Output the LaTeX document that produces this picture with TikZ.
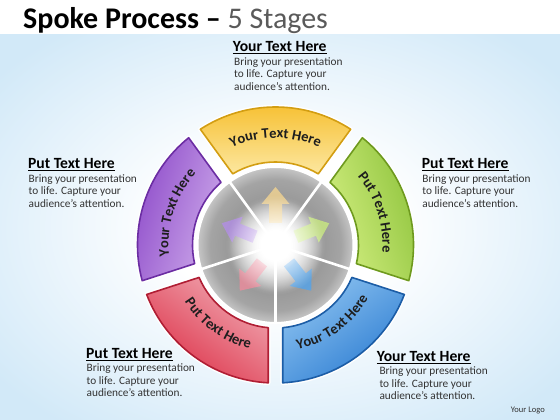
\documentclass[tikz,border=0pt]{standalone}
\usepackage{fontspec}
\setmainfont{Carlito}
\usepackage{tikz}
\usetikzlibrary{positioning,decorations.text,fadings}

\definecolor{bgblue}{HTML}{D2E9F8}
\definecolor{titlegray}{HTML}{5A5A5A}
\definecolor{bodygray}{HTML}{333333}
\definecolor{hubmid}{HTML}{999999}
\definecolor{hubmidb}{HTML}{A4A4A4}
\definecolor{hubedge}{HTML}{C6C6C6}
\definecolor{ylwL}{HTML}{FCE7A0}\definecolor{ylwD}{HTML}{F6BE2C}\definecolor{ylwO}{HTML}{D39E12}\definecolor{ylwA}{HTML}{F9D890}
\definecolor{grnL}{HTML}{D2EE80}\definecolor{grnD}{HTML}{8CC23A}\definecolor{grnO}{HTML}{6E9A1E}\definecolor{grnA}{HTML}{CDF07E}
\definecolor{bluL}{HTML}{8CC2F0}\definecolor{bluD}{HTML}{2D7DD2}\definecolor{bluO}{HTML}{1C5DA6}\definecolor{bluA}{HTML}{4EA4F0}
\definecolor{redL}{HTML}{F0A6B0}\definecolor{redD}{HTML}{DD3249}\definecolor{redO}{HTML}{B01E34}\definecolor{redA}{HTML}{F28A9C}
\definecolor{purL}{HTML}{CCA8EA}\definecolor{purD}{HTML}{8B47C8}\definecolor{purO}{HTML}{6B2DA3}\definecolor{purA}{HTML}{B48DEB}

\pgfdeclareradialshading{backglow}{\pgfpoint{0bp}{0bp}}{color(0bp)=(white); color(10bp)=(white); color(32bp)=(bgblue); color(50bp)=(bgblue)}
\pgfdeclareradialshading{hubshade}{\pgfpoint{0bp}{0bp}}{color(0bp)=(white); color(5bp)=(white); color(15bp)=(hubmid); color(21bp)=(hubmidb); color(25bp)=(hubedge); color(50bp)=(hubedge)}
\tikzfading[name=glowfade, inner color=transparent!0, outer color=transparent!100]

\newcommand{\lblfont}{\fontsize{14.5}{16}\selectfont\bfseries\color[HTML]{1E1E1E}}

\tikzstyle{hd} = [font=\fontsize{15.6}{18}\selectfont\bfseries, text=black, inner sep=0pt, anchor=base west]
\tikzstyle{bd} = [font=\fontsize{11.3}{12.6}\selectfont, text=bodygray, inner sep=0pt, align=left, anchor=north west]
\tikzstyle{halo} = [draw=white, line width=4.5pt, line join=round]
\tikzstyle{spoke} = [draw=white, line width=2.6pt]
\tikzstyle{lbl} = [decorate, decoration={text along path, text align=center}]
\tikzset{ringseg/.style={insert path={({#1+33}:138) arc[start angle={#1+33}, end angle={#1-33}, radius=138] -- ({#1-31}:83) arc[start angle={#1-31}, end angle={#1+31}, radius=83] -- cycle}}}

\begin{document}
\begin{tikzpicture}[x=1pt,y=1pt]
	\useasboundingbox (0,0) rectangle (560,420);
	% background
	\fill[white] (0,0) rectangle (560,420);
	\shade[shading=backglow] (0,0) rectangle (560,385);

	% title
	\node[anchor=base west, inner sep=0pt, font=\fontsize{30}{34}\selectfont] (title) at (23,391.7) {\textbf{Spoke Process –} \textcolor{titlegray}{5 Stages}};

	\begin{scope}[shift={(275.5,175)}]
		% coloured ring
		\foreach \ang/\lt/\dk/\ln in {90/ylwL/ylwD/ylwO, 18/grnL/grnD/grnO, -54/bluL/bluD/bluO, -126/redL/redD/redO, 162/purL/purD/purO}{
			\pgfmathsetmacro\sa{\ang-90}
			\path[halo, ringseg=\ang];
			\path[draw=\ln, line width=1.6pt, line join=round, top color=\dk, bottom color=\lt, shading angle=\sa, ringseg=\ang];
		}

		% hub
		\shade[shading=hubshade] (0,0) circle (78);
		\draw[white, line width=2pt] (0,0) circle (78);
		\foreach \s in {54,126,198,270,342}
			\draw[spoke] (0,0) -- (\s:78);
		\foreach \ang/\col in {90/ylwA, 22/grnA, -52/bluA, -128/redA, 158/purA}{
			\begin{scope}[rotate=\ang]
				\fill[\col, opacity=.75] (22,-6.5) -- (41,-6.5) -- (41,-14) -- (58,0) -- (41,14) -- (41,6.5) -- (22,6.5) -- cycle;
			\end{scope}
		}
		\fill[white, path fading=glowfade] (0,0) circle (50);
		\fill[white, path fading=glowfade] (0,0) circle (26);

		% ring labels
		\path[lbl, decoration={text={|\lblfont|Your Text Here}}] (122:107) arc[start angle=122, end angle=58, radius=107];
		\path[lbl, decoration={text={|\lblfont|Put Text Here}}] (50:107) arc[start angle=50, end angle=-14, radius=107];
		\path[lbl, decoration={text={|\lblfont|Your Text Here}}] (-86:107) arc[start angle=-86, end angle=-22, radius=107];
		\path[lbl, decoration={text={|\lblfont|Put Text Here}}] (-158:107) arc[start angle=-158, end angle=-94, radius=107];
		\path[lbl, decoration={text={|\lblfont|Your Text Here}}] (194:107) arc[start angle=194, end angle=130, radius=107];
	\end{scope}

	% text blocks
	\node[hd] (topHead) at (232.7,368) {\underline{Your Text Here}};
	\node[bd] (topBody) at ([xshift=1.3pt,yshift=-5pt]topHead.base west) {Bring your presentation\\to life. Capture your\\audience's attention.};

	\node[hd] (leftHead) at (28,251) {\underline{Put Text Here}};
	\node[bd] (leftBody) at ([xshift=0.5pt,yshift=-5pt]leftHead.base west) {Bring your presentation\\to life. Capture your\\audience's attention.};

	\node[hd] (rightHead) at (421.7,251) {\underline{Put Text Here}};
	\node[bd] (rightBody) at ([xshift=0.5pt,yshift=-5pt]rightHead.base west) {Bring your presentation\\to life. Capture your\\audience's attention.};

	\node[hd] (lowLeftHead) at (86,61.5) {\underline{Put Text Here}};
	\node[bd] (lowLeftBody) at ([xshift=0.5pt,yshift=-5pt]lowLeftHead.base west) {Bring your presentation\\to life. Capture your\\audience's attention.};

	\node[hd] (lowRightHead) at (376.7,58.3) {\underline{Your Text Here}};
	\node[bd] (lowRightBody) at ([xshift=2.6pt,yshift=-5pt]lowRightHead.base west) {Bring your presentation\\to life. Capture your\\audience's attention.};

	\node[anchor=base east, inner sep=0pt, font=\fontsize{8.5}{10}\selectfont, text=bodygray] (logo) at (545,7.7) {Your Logo};
\end{tikzpicture}
\end{document}
